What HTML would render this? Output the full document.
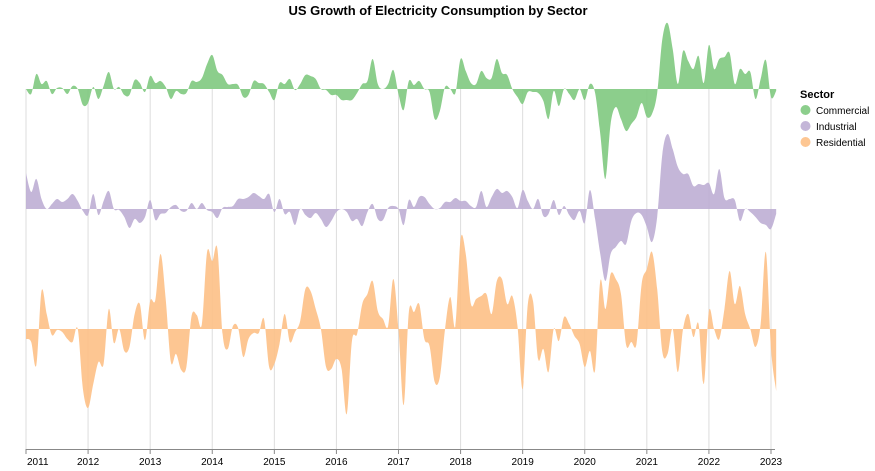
<!DOCTYPE html>
<html><head><meta charset="utf-8"><style>
body{margin:0;background:#fff;}
svg{display:block;font-family:"Liberation Sans",sans-serif;}
</style></head><body>
<svg id="chart" width="875" height="471" viewBox="0 0 875 471" xmlns="http://www.w3.org/2000/svg">
<text x="438" y="15" text-anchor="middle" font-size="13" font-weight="bold" fill="#000">US Growth of Electricity Consumption by Sector</text>
<g id="grid"></g>
<g id="areas"></g>
<g id="axis"></g>
<g>
<text x="800" y="98" font-size="11" font-weight="bold">Sector</text>
<g><circle cx="805.5" cy="110" r="5" fill="#7fc97f" fill-opacity="0.9"/><text x="816" y="114" font-size="10">Commercial</text></g>
<g><circle cx="805.5" cy="126" r="5" fill="#beaed4" fill-opacity="0.9"/><text x="816" y="130" font-size="10">Industrial</text></g>
<g><circle cx="805.5" cy="142" r="5" fill="#fdc086" fill-opacity="0.9"/><text x="816" y="146" font-size="10">Residential</text></g>
</g>
</svg>
<script>
const years = [2011,2012,2013,2014,2015,2016,2017,2018,2019,2020,2021,2022,2023];
const sectors = ["Commercial","Industrial","Residential"];
const commercial = [0,-5,15,5,8,-5,1,1,-5,3,0,-16,-14,2,-10,3,17,0,2,-6,-6,9,6,-3,13,6,8,2,-10,-2,-5,-4,8,7,11,25,34,18,14,5,5,4,-8,-6,8,6,5,-3,-11,6,5,10,-1,5,14,13,10,0,-1,-6,-6,-11,-11,-11,-4,5,8,30,5,0,5,19,-5,-21,8,4,8,0,-3,-30,-22,2,0,-4,30,18,6,5,18,11,11,30,16,14,0,-8,-15,-3,-3,-4,-12,-30,-2,-17,0,-5,-11,0,-11,5,-4,-45,-90,-35,-18,-30,-42,-35,-28,-14,-28,-25,-4,50,66,40,5,38,28,20,33,6,44,20,30,32,36,5,20,15,17,-10,10,29,-8,-2];
const industrial = [36,17,30,10,0,5,10,7,10,15,8,-2,-6,15,-6,8,18,0,-1,-8,-19,-10,-14,-8,9,-11,-5,-4,2,4,-2,-2,6,0,6,-1,-3,-9,1,2,3,10,10,12,16,13,10,15,-3,10,-5,-3,-16,0,-6,-9,-4,-10,-18,-12,-3,0,-3,-12,-10,-17,-3,5,-10,-11,1,3,0,-16,9,2,12,12,5,0,1,7,7,11,8,8,3,2,18,2,12,20,16,18,12,1,19,8,0,10,-7,-5,9,-6,3,-6,-11,-2,-14,19,-10,-45,-72,-45,-38,-32,-35,-12,-4,-6,-18,-33,-8,55,75,60,42,35,35,23,25,24,26,15,40,11,10,9,-12,0,-3,-8,-14,-16,-20,-5];
const residential = [-10,-13,-36,38,15,-6,-1,-3,-10,-13,0,-60,-79,-55,-33,-35,20,-14,0,-22,-18,15,25,-11,28,29,75,30,-33,-25,-41,-38,13,14,5,77,68,80,-5,-20,3,1,-28,-10,-4,-4,10,-38,-35,-15,15,-13,-3,8,40,38,20,0,-38,-40,-30,-40,-85,-12,-5,25,35,48,18,10,3,50,0,-76,17,17,25,-10,-17,-53,-48,0,32,3,90,75,25,30,33,35,15,48,50,25,33,3,-60,25,28,-30,-20,-43,0,-12,12,5,-7,-15,-38,-22,-41,48,20,55,50,35,-16,-13,-15,45,60,77,40,-23,-25,0,-43,0,15,-8,5,-55,18,0,-10,20,58,25,43,15,0,-18,5,77,-20,-62];

const NS="http://www.w3.org/2000/svg";
const x0=26, x1=771, baseY=[89,209,329], axisY=449;
function xMonth(i){return x0+(x1-x0)*i/144;}
function xYear(yr){return x0+(x1-x0)*(yr-2011)/12;}
function yVal(row,v){return baseY[row]-v;}

const grid=document.getElementById('grid');
years.forEach(yr=>{
  const l=document.createElementNS(NS,'line');
  
  
  l.setAttribute('x1',xYear(yr));l.setAttribute('x2',xYear(yr));
  l.setAttribute('y1',89);l.setAttribute('y2',axisY);
  l.setAttribute('stroke','#ddd');l.setAttribute('stroke-width','1');
  grid.appendChild(l);
});

function smoothPath(pts){
  let d='M'+pts[0][0]+','+pts[0][1];
  for(let i=0;i<pts.length-1;i++){
    const p0=pts[Math.max(i-1,0)],p1=pts[i],p2=pts[i+1],p3=pts[Math.min(i+2,pts.length-1)];
    const c1x=p1[0]+(p2[0]-p0[0])/6,c1y=p1[1]+(p2[1]-p0[1])/6;
    const c2x=p2[0]-(p3[0]-p1[0])/6,c2y=p2[1]-(p3[1]-p1[1])/6;
    d+=' C'+c1x.toFixed(2)+','+c1y.toFixed(2)+' '+c2x.toFixed(2)+','+c2y.toFixed(2)+' '+p2[0].toFixed(2)+','+p2[1].toFixed(2);
  }
  return d;
}
const series=[commercial,industrial,residential];
const colors=["#7fc97f","#beaed4","#fdc086"];
const areas=document.getElementById('areas');
series.forEach((vals,row)=>{
  const pts=vals.map((v,i)=>[xMonth(i),yVal(row,v)]);
  let d=smoothPath(pts);
  d+=' L'+pts[pts.length-1][0].toFixed(2)+','+baseY[row]+' L'+pts[0][0]+','+baseY[row]+' Z';
  const p=document.createElementNS(NS,'path');
  
  
  p.setAttribute('d',d);
  p.setAttribute('fill',colors[row]);
  p.setAttribute('fill-opacity','0.9');
  areas.appendChild(p);
});

const axis=document.getElementById('axis');
const al=document.createElementNS(NS,'line');


al.setAttribute('x1',x0);al.setAttribute('x2',775);al.setAttribute('y1',axisY+0.5);al.setAttribute('y2',axisY+0.5);
al.setAttribute('stroke','#888');
axis.appendChild(al);
years.forEach((yr,k)=>{
  const t=document.createElementNS(NS,'line');
  
  
  t.setAttribute('x1',xYear(yr));t.setAttribute('x2',xYear(yr));
  t.setAttribute('y1',axisY);t.setAttribute('y2',axisY+5);
  t.setAttribute('stroke','#888');
  axis.appendChild(t);
  const tx=document.createElementNS(NS,'text');
  
  
  tx.setAttribute('x',k===0?xYear(yr)+1:xYear(yr));tx.setAttribute('y',axisY+16);
  tx.setAttribute('text-anchor',k===0?'start':'middle');tx.setAttribute('font-size','10');
  tx.setAttribute('fill','#000');
  tx.textContent=yr;
  axis.appendChild(tx);
});
</script>
</body></html>
